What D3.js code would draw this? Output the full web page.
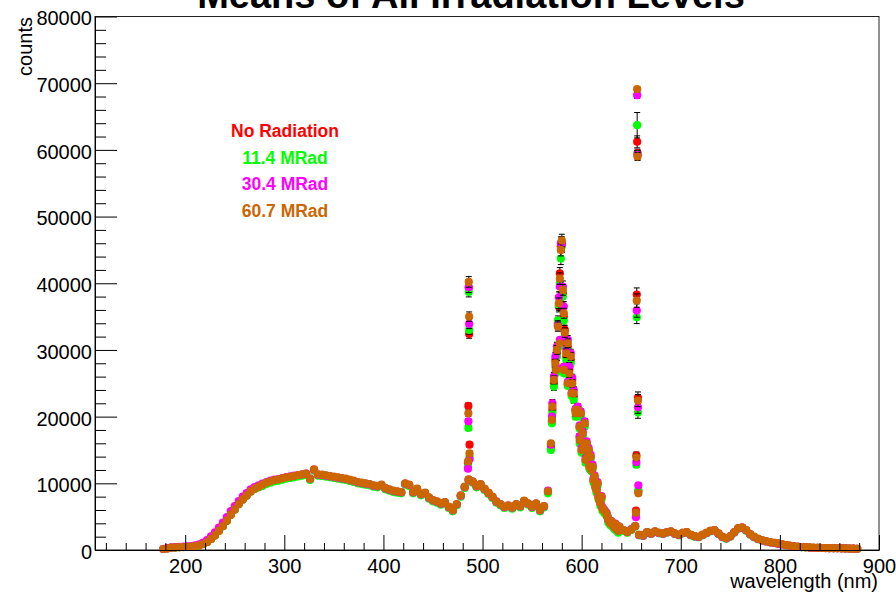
<!DOCTYPE html>
<html>
<head>
<meta charset="utf-8">
<script src="https://cdn.jsdelivr.net/npm/d3@7"></script>
<style>
  html, body { margin: 0; padding: 0; background: #fff; }
  svg { display: block; font-family: "Liberation Sans", Arial, Helvetica, sans-serif; }
</style>
</head>
<body>
<svg id="chart" width="896" height="593"></svg>
<script>
// Continuum sampling grid (nm), 178 .. 878 in 4 nm steps
const wavelength = d3.range(178, 879, 4);

// Mean counts on the continuum grid, one array per irradiation level
const countsNoRad = [
  150, 240, 340, 370, 410, 440, 470, 510, 590, 690,
  880, 1170, 1620, 2160, 2850, 3550, 4350, 5250, 6050, 6850,
  7550, 8150, 8750, 9150, 9420, 9700, 10000, 10200, 10400, 10500,
  10650, 10800, 10900, 11000, 11150, 11250, 11350, 10600, 12000, 11250,
  11200, 11100, 11000, 10900, 10800, 10700, 10600, 10450, 10300, 10100,
  10000, 9900, 9800, 9600, 9500, 9700, 9200, 9000, 8800, 8700,
  8600, 9900, 9700, 8600, 9100, 8300, 8500, 7800, 7400, 7200,
  6900, 7100, 6400, 5900, 6800, 8100, 9400, 10500, 10200, 9500,
  9800, 9100, 8500, 7900, 7200, 6800, 6400, 6600, 6300, 6800,
  6500, 7300, 6900, 6400, 6900, 5900, 6500, 8700, 19300, 26800,
  30800, 26800, 24800, 23300, 20900, 18400, 15900, 13900, 11900, 9400,
  7450, 5950, 4950, 4250, 3850, 3450, 2950, 2650, 3050, 3550,
  2250, 2150, 2650, 2450, 2750, 2550, 2450, 2650, 2750, 2450,
  2250, 2550, 2650, 2250, 2050, 1950, 2250, 2550, 2850, 2950,
  2450, 1950, 1750, 2050, 2650, 3250, 3350, 2950, 2350, 1950,
  1650, 1450, 1300, 1150, 1050, 950, 850, 720, 630, 550,
  490, 440, 410, 370, 340, 320, 300, 290, 280, 270,
  260, 245, 235, 215, 195, 175
];
const counts11 = [
  150, 250, 350, 380, 420, 450, 480, 520, 600, 700,
  900, 1200, 1650, 2200, 2900, 3600, 4400, 5300, 6100, 6900,
  7600, 8200, 8800, 9200, 9400, 9600, 9900, 10100, 10300, 10400,
  10550, 10700, 10800, 10900, 11050, 11150, 11250, 10500, 11900, 11150,
  11100, 11000, 10900, 10800, 10700, 10600, 10500, 10350, 10200, 10000,
  9900, 9800, 9700, 9500, 9400, 9600, 9100, 8900, 8700, 8600,
  8500, 9800, 9600, 8500, 9000, 8200, 8400, 7700, 7300, 7100,
  6800, 7000, 6300, 5800, 6700, 8000, 9300, 10400, 10100, 9400,
  9700, 9000, 8400, 7800, 7100, 6700, 6300, 6500, 6200, 6700,
  6400, 7200, 6800, 6300, 6800, 5800, 6400, 8500, 19000, 26500,
  30500, 26500, 24600, 23100, 20700, 18200, 15700, 13800, 11800, 9300,
  7400, 5900, 4900, 4200, 3800, 3400, 2900, 2600, 3000, 3500,
  2200, 2100, 2600, 2400, 2700, 2500, 2400, 2600, 2700, 2400,
  2200, 2500, 2600, 2200, 2000, 1900, 2200, 2500, 2800, 2900,
  2400, 1900, 1700, 2000, 2600, 3200, 3300, 2900, 2300, 1900,
  1600, 1450, 1300, 1150, 1050, 950, 850, 700, 620, 540,
  480, 430, 400, 370, 340, 320, 300, 290, 280, 270,
  260, 245, 230, 210, 190, 170
];
const counts30 = [
  160, 270, 380, 420, 460, 500, 540, 600, 700, 850,
  1100, 1500, 2050, 2650, 3350, 4100, 4950, 5850, 6600, 7350,
  8000, 8550, 9100, 9450, 9700, 9950, 10200, 10400, 10550, 10650,
  10800, 10950, 11050, 11150, 11250, 11350, 11450, 10700, 12050, 11300,
  11250, 11150, 11050, 10950, 10850, 10750, 10650, 10500, 10350, 10150,
  10050, 9950, 9850, 9650, 9550, 9750, 9250, 9050, 8850, 8750,
  8650, 9950, 9750, 8650, 9150, 8350, 8550, 7850, 7450, 7250,
  6950, 7150, 6450, 5950, 6850, 8150, 9450, 10550, 10250, 9550,
  9850, 9150, 8550, 7950, 7250, 6850, 6450, 6650, 6350, 6850,
  6550, 7350, 6950, 6450, 6950, 5950, 6550, 8900, 20000, 27500,
  31500, 27500, 25200, 23600, 21200, 18700, 16200, 14100, 12100, 9600,
  7600, 6100, 5100, 4350, 3950, 3500, 3000, 2700, 3100, 3600,
  2250, 2150, 2650, 2450, 2750, 2550, 2450, 2650, 2750, 2450,
  2250, 2550, 2650, 2250, 2050, 1950, 2250, 2550, 2850, 2950,
  2450, 1950, 1750, 2050, 2650, 3250, 3350, 2950, 2350, 1950,
  1650, 1450, 1300, 1150, 1050, 950, 850, 720, 630, 550,
  490, 440, 410, 370, 340, 320, 300, 290, 280, 270,
  260, 245, 235, 215, 195, 175
];
const counts60 = [
  150, 250, 350, 380, 420, 450, 480, 520, 600, 700,
  900, 1200, 1650, 2200, 2900, 3600, 4400, 5300, 6100, 6900,
  7600, 8200, 8800, 9200, 9500, 9800, 10100, 10300, 10500, 10600,
  10750, 10900, 11000, 11100, 11250, 11350, 11450, 10700, 12100, 11350,
  11300, 11200, 11100, 11000, 10900, 10800, 10700, 10550, 10400, 10200,
  10100, 10000, 9900, 9700, 9600, 9800, 9300, 9100, 8900, 8800,
  8700, 10000, 9800, 8700, 9200, 8400, 8600, 7900, 7500, 7300,
  7000, 7200, 6500, 6000, 6900, 8200, 9500, 10600, 10300, 9600,
  9900, 9200, 8600, 8000, 7300, 6900, 6500, 6700, 6400, 6900,
  6600, 7400, 7000, 6500, 7000, 6000, 6600, 8800, 19500, 27000,
  31000, 27000, 25000, 23500, 21000, 18500, 16000, 14000, 12000, 9500,
  7500, 6000, 5000, 4300, 3900, 3500, 3000, 2700, 3100, 3600,
  2300, 2200, 2700, 2500, 2800, 2600, 2500, 2700, 2800, 2500,
  2300, 2600, 2700, 2300, 2100, 2000, 2300, 2600, 2900, 3000,
  2500, 2000, 1800, 2100, 2700, 3300, 3400, 3000, 2400, 2000,
  1700, 1500, 1350, 1200, 1100, 1000, 900, 750, 650, 560,
  500, 450, 420, 380, 350, 330, 310, 300, 290, 280,
  270, 250, 240, 220, 200, 180
];

// Fine-resolution samples across the bright emission lines (486, ~580, 656 nm)
// and the steep fall-off on the red side of the ~580 nm band
const lineWavelength = [
  485.3, 485.7, 486.1, 486.5, 486.9,
  569, 570.5, 572, 573.5, 575, 576, 577, 578, 579, 580, 581, 582, 583, 584.5, 586, 587.5, 589, 590.5, 592, 594, 596, 598,
  599, 600, 601, 603, 604, 605, 607, 608, 609, 611, 612, 613, 615, 616, 617, 619, 620, 621, 623, 625, 627, 629, 631, 633, 635, 637,
  654.8, 655.2, 655.6, 656.0, 656.4, 656.8, 657.2
];
const lineNoRad = [
  13000, 21600, 39300, 32400, 15800,
  15500, 21000, 25000, 28500, 29500, 34000, 36500, 41500, 45500, 46000, 38500, 35000, 33000, 29000, 30500, 27000, 28500, 25500, 23000, 21000, 20500, 17000,
  20300, 14900, 17400, 18800, 13400, 15900, 14900, 12400, 13900, 12400, 10400, 10900, 8900, 9900, 7900, 6900, 7900, 6200, 5800, 5400, 4400, 3900, 3700, 3300, 3100, 2800,
  5900, 14200, 38300, 61200, 59500, 22800, 8800
];
const line11 = [
  12500, 18300, 38700, 33000, 14000,
  15000, 20500, 24500, 27500, 29000, 34400, 36700, 40000, 43700, 45500, 38000, 34400, 32000, 28500, 30000, 26000, 28000, 24500, 22500, 20000, 20500, 16000,
  20000, 14600, 17000, 18500, 13100, 15600, 14600, 12100, 13600, 12100, 10100, 10600, 8600, 9600, 7600, 6600, 7600, 5900, 5500, 5100, 4100, 3700, 3500, 3100, 2900, 2600,
  5300, 12800, 34900, 63700, 59300, 20600, 9000
];
const line30 = [
  12200, 19300, 39400, 33900, 13600,
  15800, 22000, 26000, 29000, 30500, 33700, 37900, 39500, 46000, 45800, 39500, 36500, 31700, 30000, 31500, 27500, 29500, 25800, 24000, 21000, 21500, 17000,
  20800, 15300, 17800, 19300, 13800, 16300, 15300, 12800, 14300, 12800, 10700, 11200, 9200, 10200, 8200, 7100, 8100, 6400, 6000, 5600, 4500, 4100, 3800, 3400, 3200, 2900,
  4900, 13200, 35900, 68200, 59200, 21400, 9700
];
const line60 = [
  13300, 20500, 40200, 35000, 14500,
  16000, 21500, 25500, 28000, 30000, 33500, 37000, 40700, 45000, 46400, 39000, 35500, 32600, 29500, 31000, 26500, 29000, 25000, 23500, 20500, 21000, 16500,
  20500, 15000, 17500, 19000, 13500, 16000, 15000, 12500, 14000, 12500, 10500, 11000, 9000, 10000, 8000, 7000, 8000, 6300, 5900, 5500, 4500, 4000, 3800, 3400, 3200, 2900,
  5600, 13900, 37400, 69100, 59000, 22400, 8500
];
// Uncertainty on the mean for the fine-resolution samples
const lineErrNoRad = [
  300, 450, 800, 650, 350,
  400, 500, 600, 600, 650, 700, 800, 850, 900, 950, 800, 750, 700, 650, 650, 600, 600, 550, 500, 450, 450, 400,
  400, 300, 350, 400, 300, 350, 300, 250, 300, 250, 200, 200, 200, 200, 150, 150, 150, 150, 150, 100, 100, 100, 100, 100, 100, 100,
  200, 500, 1000, 900, 600, 900, 350
];
const lineErr11 = [
  300, 400, 750, 650, 300,
  400, 500, 550, 600, 600, 700, 750, 850, 900, 900, 800, 700, 700, 650, 600, 600, 550, 550, 500, 450, 450, 400,
  400, 300, 350, 400, 300, 350, 300, 250, 300, 250, 200, 200, 200, 200, 150, 150, 150, 150, 150, 100, 100, 100, 100, 100, 100, 100,
  200, 450, 950, 1900, 600, 850, 350
];
const lineErr30 = [
  300, 400, 800, 700, 300,
  400, 550, 600, 650, 650, 700, 800, 800, 950, 950, 850, 750, 700, 650, 650, 600, 600, 550, 500, 450, 450, 400,
  400, 300, 350, 400, 300, 350, 300, 250, 300, 250, 200, 200, 200, 200, 150, 150, 150, 150, 150, 100, 100, 100, 100, 100, 100, 100,
  200, 450, 1000, 500, 600, 900, 350
];
const lineErr60 = [
  300, 450, 800, 700, 350,
  400, 500, 600, 600, 650, 700, 800, 850, 900, 950, 800, 750, 700, 650, 650, 600, 600, 550, 500, 450, 450, 400,
  400, 300, 350, 400, 300, 350, 300, 250, 300, 250, 200, 200, 200, 200, 150, 150, 150, 150, 150, 100, 100, 100, 100, 100, 100, 100,
  200, 500, 1000, 400, 600, 900, 350
];

const seriesNames = ["No Radiation", "11.4 MRad", "30.4 MRad", "60.7 MRad"];
const seriesColors = ["#ff0000", "#00ff00", "#ff00ff", "#cc6600"];
const continuumCounts = [countsNoRad, counts11, counts30, counts60];
const lineCounts = [lineNoRad, line11, line30, line60];
const lineErrors = [lineErrNoRad, lineErr11, lineErr30, lineErr60];

const xMajorTicks = [200, 300, 400, 500, 600, 700, 800, 900];
const yMajorTicks = [0, 10000, 20000, 30000, 40000, 50000, 60000, 70000, 80000];

(function draw() {
  const svg = d3.select("#chart");
  const frame = { left: 95, right: 879, top: 16.5, bottom: 550 };

  const x = d3.scaleLinear().domain([109, 900]).range([frame.left, frame.right]);
  const y = d3.scaleLinear().domain([0, 80000]).range([frame.bottom, frame.top]);

  // Frame box
  svg.append("rect")
    .attr("x", frame.left).attr("y", frame.top)
    .attr("width", frame.right - frame.left).attr("height", frame.bottom - frame.top)
    .attr("fill", "none").attr("stroke", "#222").attr("stroke-width", 1);

  // Data: each level draws its error bars, then its markers
  const plot = svg.append("g");
  seriesNames.forEach((name, i) => {
    const g = plot.append("g");
    const pts = wavelength.map((w, k) => ({ w, c: continuumCounts[i][k], e: 0 }))
      .concat(lineWavelength.map((w, k) => ({ w, c: lineCounts[i][k], e: lineErrors[i][k] })));
    const withErr = pts.filter(d => d.e > 0);
    g.selectAll("line.err").data(withErr).join("line")
      .attr("class", "err")
      .attr("x1", d => x(d.w)).attr("x2", d => x(d.w))
      .attr("y1", d => y(d.c - d.e)).attr("y2", d => y(d.c + d.e))
      .attr("stroke", "#000").attr("stroke-width", 1);
    g.selectAll("line.capTop").data(withErr).join("line")
      .attr("class", "capTop")
      .attr("x1", d => x(d.w) - 3).attr("x2", d => x(d.w) + 3)
      .attr("y1", d => y(d.c + d.e)).attr("y2", d => y(d.c + d.e))
      .attr("stroke", "#000").attr("stroke-width", 1);
    g.selectAll("line.capBot").data(withErr).join("line")
      .attr("class", "capBot")
      .attr("x1", d => x(d.w) - 3).attr("x2", d => x(d.w) + 3)
      .attr("y1", d => y(d.c - d.e)).attr("y2", d => y(d.c - d.e))
      .attr("stroke", "#000").attr("stroke-width", 1);
    g.selectAll("circle").data(pts).join("circle")
      .attr("cx", d => x(d.w)).attr("cy", d => y(d.c))
      .attr("r", 4.1)
      .attr("fill", seriesColors[i]);
  });

  // Axes with major and minor ticks pointing into the frame
  const fontSize = 20;
  const yAxis = d3.axisLeft(y).tickValues(yMajorTicks).tickSize(-22).tickSizeOuter(0).tickPadding(3).tickFormat(d3.format("d"));
  const yMinor = d3.axisLeft(y).tickValues(d3.range(0, 80001, 2000).filter(v => v % 10000 !== 0)).tickSize(-11).tickFormat("");
  const xAxis = d3.axisBottom(x).tickValues(xMajorTicks).tickSize(-15).tickSizeOuter(0).tickPadding(9).tickFormat(d3.format("d"));
  const xMinor = d3.axisBottom(x).tickValues(d3.range(120, 901, 20).filter(v => v % 100 !== 0)).tickSize(-7).tickFormat("");

  const gy = svg.append("g").attr("transform", `translate(${frame.left},0)`).call(yAxis);
  svg.append("g").attr("transform", `translate(${frame.left},0)`).call(yMinor).select(".domain").remove();
  const gx = svg.append("g").attr("transform", `translate(0,${frame.bottom})`).call(xAxis);
  svg.append("g").attr("transform", `translate(0,${frame.bottom})`).call(xMinor).select(".domain").remove();

  svg.selectAll(".tick line, .domain").attr("stroke", "#000");
  gy.selectAll("text").attr("font-size", fontSize).attr("dy", "0.42em").attr("fill", "#000")
    .style("font-family", "'Liberation Sans', Arial, sans-serif");
  gx.selectAll("text").attr("font-size", fontSize).attr("fill", "#000")
    .style("font-family", "'Liberation Sans', Arial, sans-serif");

  // Axis titles
  svg.append("text")
    .attr("transform", "translate(32,17) rotate(-90)")
    .attr("text-anchor", "end")
    .attr("font-size", fontSize)
    .text("counts");
  svg.append("text")
    .attr("x", 878).attr("y", 588)
    .attr("text-anchor", "end")
    .attr("font-size", fontSize)
    .text("wavelength (nm)");

  // Title
  svg.append("text")
    .attr("x", 471).attr("y", 8)
    .attr("text-anchor", "middle")
    .attr("font-size", 38)
    .attr("font-weight", "bold")
    .text("Means of All Irradiation Levels");

  // Legend
  const legendY = [137, 163.5, 190, 216.5];
  svg.append("g").selectAll("text").data(seriesNames).join("text")
    .attr("x", 285).attr("y", (d, i) => legendY[i])
    .attr("text-anchor", "middle")
    .attr("font-size", 17.5)
    .attr("font-weight", "bold")
    .attr("fill", (d, i) => seriesColors[i])
    .text(d => d);
})();
</script>
</body>
</html>
